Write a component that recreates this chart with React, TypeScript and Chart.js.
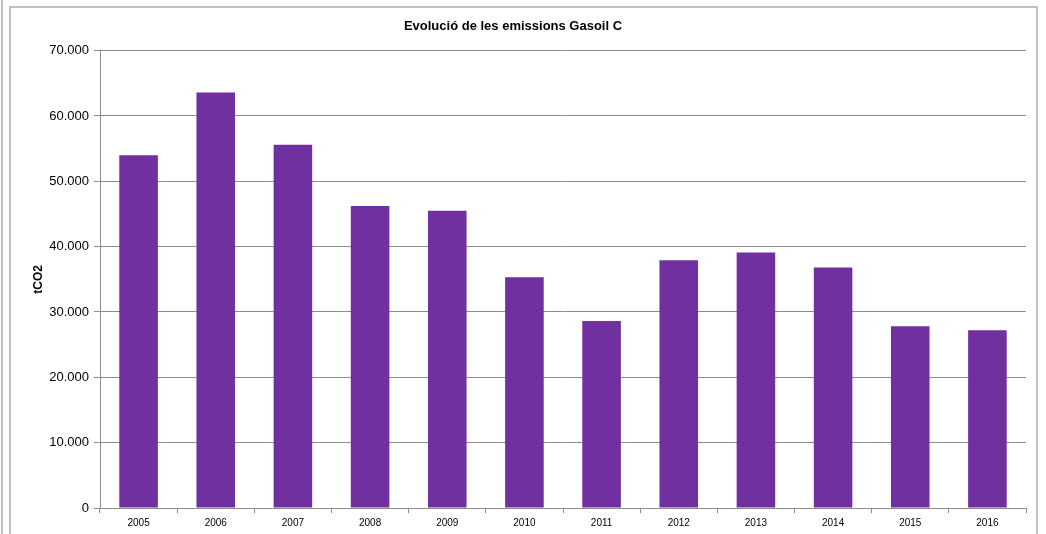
import React, { useEffect, useRef } from "react";
import { Chart, registerables } from "chart.js";

Chart.register(...registerables);

const TITLE = "Evolució de les emissions Gasoil C";
const Y_TITLE = "tCO2";
const YEARS = ["2005", "2006", "2007", "2008", "2009", "2010", "2011", "2012", "2013", "2014", "2015", "2016"];
const EMISSIONS = [54000, 63600, 55600, 46200, 45500, 35300, 28600, 37900, 39100, 36800, 27800, 27200];
const Y_MAX = 70000;
const Y_STEP = 10000;

const FONT = "'Liberation Sans', Arial, sans-serif";
const BAR_COLOR = "#7030A0";
const GRID_COLOR = "#8c8c8c";

function fmt(v: number): string {
  const s = Math.round(v).toString();
  return s.replace(/\B(?=(\d{3})+(?!\d))/g, ".");
}

export default function App() {
  const ref = useRef<HTMLCanvasElement | null>(null);

  useEffect(() => {
    if (!ref.current) return;
    const chart = new Chart(ref.current, {
      type: "bar",
      data: {
        labels: YEARS,
        datasets: [
          {
            label: Y_TITLE,
            data: EMISSIONS,
            backgroundColor: BAR_COLOR,
            borderWidth: 0,
            barPercentage: 0.5,
            categoryPercentage: 1,
          },
        ],
      },
      options: {
        responsive: false,
        animation: false,
        layout: { padding: { left: 0, right: 20, top: 0, bottom: 0 } },
        plugins: {
          legend: { display: false },
          tooltip: { enabled: false },
          title: {
            display: true,
            text: TITLE,
            color: "#000",
            font: { family: FONT, size: 13, weight: "bold" },
            padding: { top: 19, bottom: 16 },
          },
        },
        scales: {
          x: {
            grid: {
              display: true,
              drawOnChartArea: false,
              drawTicks: true,
              tickLength: 5,
              color: GRID_COLOR,
              offset: true,
            },
            border: { display: true, color: GRID_COLOR, width: 1 },
            ticks: {
              color: "#000",
              font: { family: FONT, size: 10 },
              padding: 4,
              maxRotation: 0,
              autoSkip: false,
            },
            afterFit: (scale: any) => {
              scale.height = 26;
            },
          },
          y: {
            min: 0,
            max: Y_MAX,
            ticks: {
              stepSize: Y_STEP,
              color: "#000",
              font: { family: FONT, size: 13 },
              padding: 5,
              callback: (v: any) => fmt(Number(v)),
            },
            grid: {
              color: GRID_COLOR,
              tickLength: 6,
              drawTicks: true,
            },
            border: { display: true, color: GRID_COLOR, width: 1 },
            title: {
              display: true,
              text: Y_TITLE,
              color: "#000",
              font: { family: FONT, size: 12, weight: "bold" },
              padding: { top: 31, bottom: 0 },
            },
            afterFit: (scale: any) => {
              scale.width = 100;
            },
          },
        },
      },
    });
    return () => chart.destroy();
  }, []);

  return (
    <div style={{ position: "fixed", left: 0, top: 0, width: 1046, height: 534, background: "#fff", overflow: "hidden" }}>
      <div style={{ position: "absolute", left: 1, top: -10, width: 0, height: 560, borderLeft: "2px solid #c0c0c0" }} />
      <div
        style={{
          position: "absolute",
          left: 9,
          top: 6,
          width: 1029,
          height: 560,
          border: "2px solid #c0c0c0",
          boxSizing: "border-box",
        }}
      />
      <canvas ref={ref} width={1046} height={534} style={{ position: "absolute", left: 0, top: 0 }} />
    </div>
  );
}
